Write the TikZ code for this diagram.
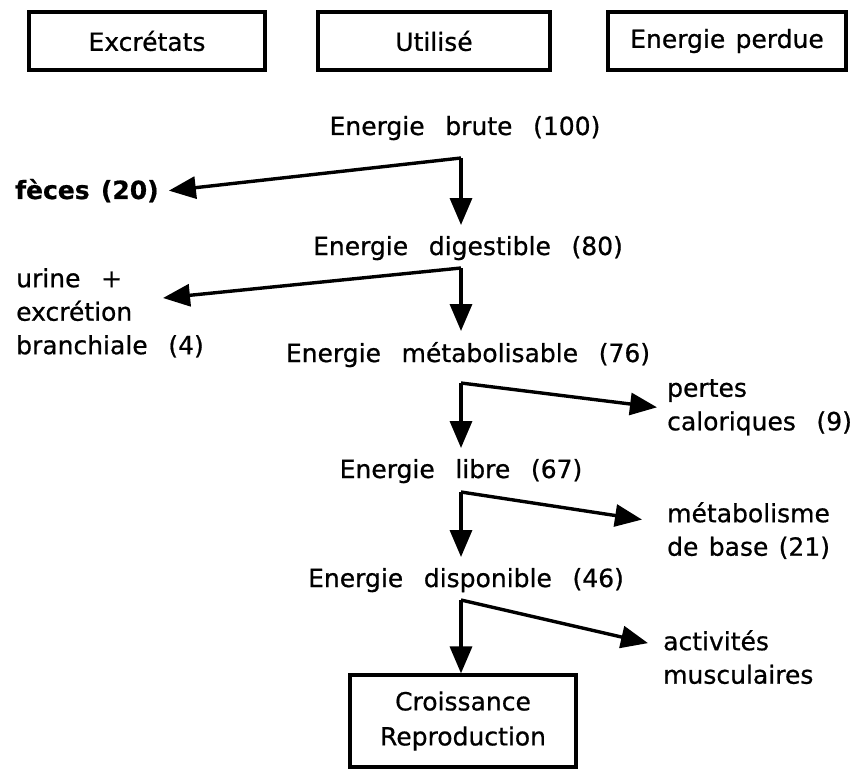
\documentclass[tikz,border=0pt]{standalone}
\usepackage{fontspec}
\setmainfont{DejaVu Sans}[WordSpace=2.6,FakeBold=0.7]
\newfontfamily\boxfont{DejaVu Sans}[WordSpace=1.3,FakeBold=0.7]
\usetikzlibrary{arrows.meta,positioning}

\begin{document}
\begin{tikzpicture}[x=1pt,y=-1pt,
        every node/.style={font=\fontsize{25}{33.5}\selectfont},
        box/.style={draw,line width=3.2pt,minimum height=58pt,inner sep=0pt,font=\boxfont\fontsize{25}{35}\selectfont},
        etape/.style={inner sep=0pt,outer ysep=11pt,anchor=base},
        cote/.style={inner sep=0pt,anchor=north west,align=left},
        flow/.style={line width=3.4pt,-{Triangle[length=27pt,width=22pt]}}]
            \useasboundingbox (0,0) rectangle (867,770);
            % en-tete
            \node[box,minimum width=236pt] (excr) at (147,41) {Excrétats};
            \node[box,minimum width=232pt] (util) at (434,41) {Utilisé};
            \node[box,minimum width=238pt] (perd) at (727,41) {Energie perdue};

            % chaine principale
            \node[etape] (brute) at (465,135) {Energie brute (100)};
            \node[etape] (digest) at (468,255) {Energie digestible (80)};
            \node[etape] (metabo) at (468,362) {Energie métabolisable (76)};
            \node[etape] (libre) at (461,478) {Energie libre (67)};
            \node[etape] (dispo) at (466,587) {Energie disponible (46)};
            \node[box,minimum width=226pt,minimum height=92pt,align=center] (crois) at (463,721) {Croissance\\Reproduction};

            % pertes
            \node[inner sep=0pt,anchor=base west,font=\boxfont\bfseries\fontsize{25}{33}\selectfont] (feces) at (15,199) {fèces (20)};
            \node[cote] (urine) at (16,268) {urine +\\excrétion\\branchiale (4)};
            \node[cote] (pertes) at (667,379) {pertes\\caloriques (9)};
            \node[cote] (mbase) at (667,502) {métabolisme\\{\boxfont de base (21)}};
            \node[cote] (activ) at (663,630) {activités\\musculaires};

            \coordinate (k1) at (461,158);
            \coordinate (k2) at (461,268);
            \coordinate (k3) at (461,383);
            \coordinate (k4) at (461,492);
            \coordinate (k5) at (461,600);

            \draw[flow] (k1) -- ([xshift=10pt]feces.east);
            \draw[flow] (k1) -- (k1 |- digest.north);
            \draw[flow] (k2) -- ([xshift=147pt,yshift=-30pt]urine.north west);
            \draw[flow] (k2) -- (k2 |- metabo.north);
            \draw[flow] (k3) -- ([xshift=-10pt]pertes.west);
            \draw[flow] (k3) -- (k3 |- libre.north);
            \draw[flow] (k4) -- ([xshift=-25pt,yshift=11pt]mbase.west);
            \draw[flow] (k4) -- (k4 |- dispo.north);
            \draw[flow] (k5) -- ([xshift=-15pt,yshift=14pt]activ.west);
            \draw[flow] (k5) -- (k5 |- crois.north);
\end{tikzpicture}
\end{document}
